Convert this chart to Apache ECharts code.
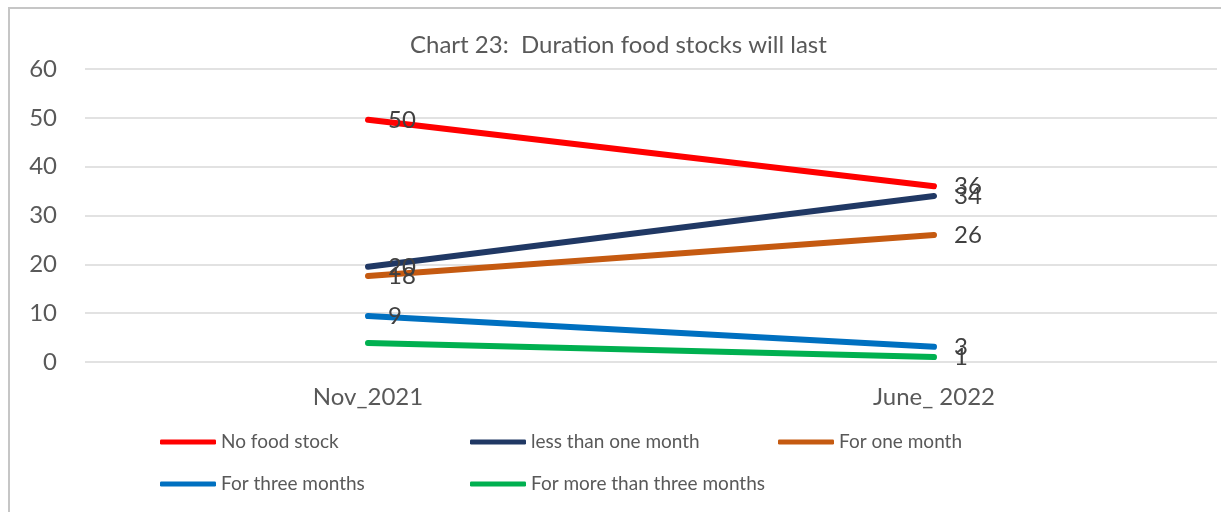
<!DOCTYPE html>
<html>
<head>
<meta charset="utf-8">
<script src="https://cdn.jsdelivr.net/npm/echarts@6/dist/echarts.min.js"></script>
<style>
  html, body { margin: 0; padding: 0; background: #fff; }
  #frame { position: absolute; left: 8px; top: 7px; width: 1213px; height: 505px;
           border-left: 2px solid #c6c6c6; border-top: 2px solid #c6c6c6; }
  #chart { position: absolute; left: 0; top: 0; width: 1221px; height: 512px; }
</style>
</head>
<body>
<div id="frame"></div>
<div id="chart"></div>
<script>
// categories and values
const categories = ['Nov_2021', 'June_ 2022'];
const noFoodStock = [49.6, 36];
const lessThanOneMonth = [19.5, 34];
const forOneMonth = [17.6, 26];
const forThreeMonths = [9.4, 3.1];
const moreThanThreeMonths = [3.9, 1];
const yTicks = [0, 10, 20, 30, 40, 50, 60];

const font = 'Lato';
const colors = ['#ff0000', '#203864', '#c55a11', '#0070c0', '#00b050'];
const names = ['No food stock', 'less than one month', 'For one month', 'For three months', 'For more than three months'];
const values = [noFoodStock, lessThanOneMonth, forOneMonth, forThreeMonths, moreThanThreeMonths];

const myChart = echarts.init(document.getElementById('chart'));

function makeSeries(i) {
  return {
    name: names[i],
    type: 'line',
    symbol: 'circle',
    symbolSize: 0.1,
    showSymbol: true,
    z: 10 - i,
    lineStyle: { width: 6, color: colors[i], cap: 'round' },
    itemStyle: { color: colors[i] },
    // green has no label on the first point in the original
    data: values[i].map((v, j) => (i === 4 && j === 0) ? { value: v, label: { show: false } } : v),
    label: {
      show: true,
      position: 'right',
      distance: 20,
      offset: [0, 2],
      fontFamily: font,
      fontSize: 24,
      color: '#404040',
      formatter: p => Math.round(p.value)
    },
    labelLayout: { hideOverlap: false }
  };
}

function legendCol(left, items) {
  return {
    orient: 'vertical',
    left: left,
    top: 432,
    padding: 0,
    icon: 'roundRect',
    itemWidth: 56,
    itemHeight: 5,
    itemGap: 22,
    data: items,
    textStyle: { fontFamily: font, fontSize: 19, color: '#595959', lineHeight: 20 }
  };
}

const option = {
  animation: false,
  color: colors,
  title: {
    text: 'Chart 23:  Duration food stocks will last',
    left: 410,
    top: 33,
    padding: 0,
    textStyle: { fontFamily: font, fontSize: 24, fontWeight: 'normal', color: '#595959' }
  },
  legend: [
    legendCol(160, [names[0], names[3]]),
    legendCol(470, [names[1], names[4]]),
    legendCol(778, [names[2]])
  ],
  grid: { left: 85, right: 4, top: 69, bottom: 150 },
  xAxis: {
    type: 'category',
    data: categories,
    boundaryGap: true,
    axisLine: { show: false },
    axisTick: { show: false },
    axisLabel: { fontFamily: font, fontSize: 24, color: '#595959', margin: 23 }
  },
  yAxis: {
    type: 'value',
    min: yTicks[0],
    max: yTicks[yTicks.length - 1],
    interval: 10,
    axisLine: { show: false },
    axisTick: { show: false },
    axisLabel: { fontFamily: font, fontSize: 24, color: '#595959', margin: 28 },
    splitLine: { lineStyle: { color: '#d9d9d9', width: 1.5 } }
  },
  series: [0, 1, 2, 3, 4].map(makeSeries)
};
myChart.setOption(option);
</script>
</body>
</html>
